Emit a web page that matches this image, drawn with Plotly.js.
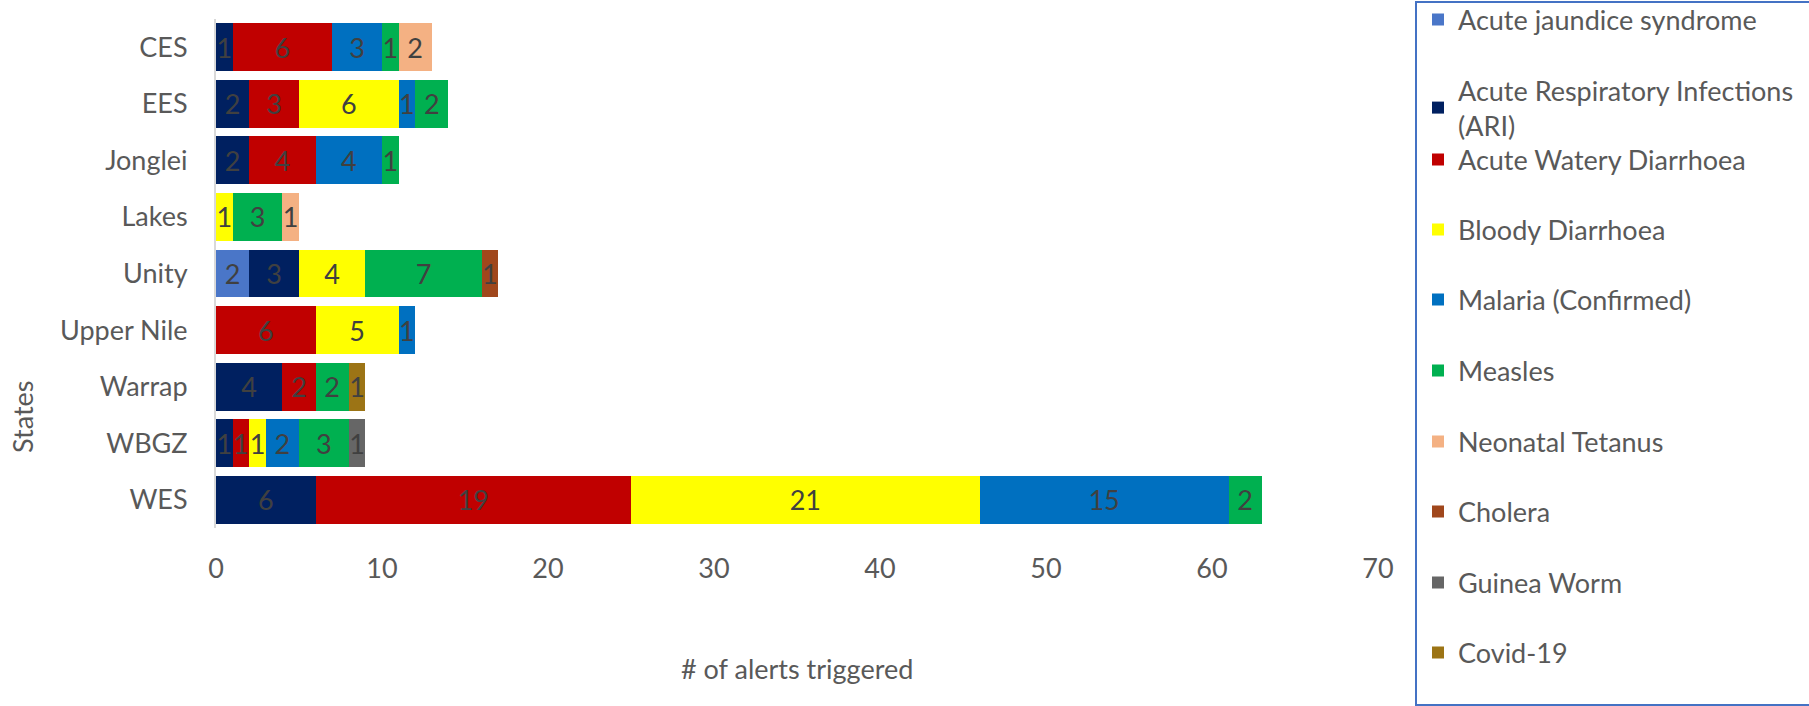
<!DOCTYPE html>
<html>
<head>
<meta charset="utf-8">
<script src="https://cdn.plot.ly/plotly-3.0.1.min.js"></script>
<style>html,body{margin:0;padding:0;background:#fff;}#chart{width:1809px;height:706px;}</style>
</head>
<body>
<div id="chart"></div>
<script>
const states = ["CES","EES","Jonglei","Lakes","Unity","Upper Nile","Warrap","WBGZ","WES"];
const diseases = ["Acute jaundice syndrome","Acute Respiratory Infections<br>(ARI)","Acute Watery Diarrhoea","Bloody Diarrhoea","Malaria (Confirmed)","Measles","Neonatal Tetanus","Cholera","Guinea Worm","Covid-19"];
const jaundice    = [null,null,null,null,2,null,null,null,null];
const ari         = [1,2,2,null,3,null,4,1,6];
const awd         = [6,3,4,null,null,6,2,1,19];
const bloody      = [null,6,null,1,4,5,null,1,21];
const malaria     = [3,1,4,null,null,1,null,2,15];
const measles     = [1,2,1,3,7,null,2,3,2];
const neoTetanus  = [2,null,null,1,null,null,null,null,null];
const cholera     = [null,null,null,null,1,null,null,null,null];
const guineaWorm  = [null,null,null,null,null,null,null,1,null];
const covid19     = [null,null,null,null,null,null,1,null,null];
const xTicks = [0,10,20,30,40,50,60,70];

const series = [jaundice, ari, awd, bloody, malaria, measles, neoTetanus, cholera, guineaWorm, covid19];
const colors = ["#4A76C8","#002060","#C00000","#FFFF00","#0070C0","#00B050","#F4B183","#A0471C","#666666","#9C7415"];
// legend item vertical centres (px from top of the page)
const legendCentres = [20,108,160,230,300,371,442,512,583,653];

const FONT = "Lato, 'Liberation Sans', sans-serif";
const FS = 27;
const W = 1809, H = 706;

const traces = series.map((vals, i) => ({
  type: "bar",
  orientation: "h",
  name: diseases[i],
  y: states,
  x: vals,
  marker: {color: colors[i]},
  text: vals.map(v => v === null ? "" : String(v)),
  texttemplate: "%{text}",
  textposition: "inside",
  insidetextanchor: "middle",
  constraintext: "none",
  textangle: 0,
  textfont: {family: FONT, size: FS, color: "#404040"},
  legend: i === 0 ? "legend" : "legend" + (i + 1),
  hoverinfo: "x+name"
}));

const layout = {
  width: W, height: H,
  margin: {l: 216, r: 431, t: 19, b: 178},
  paper_bgcolor: "#fff",
  plot_bgcolor: "#fff",
  barmode: "stack",
  bargap: 0.155,
  font: {family: FONT, size: FS, color: "#595959"},
  xaxis: {
    range: [0, 70],
    tickvals: xTicks,
    ticktext: xTicks.map(String),
    showgrid: false, zeroline: false, showline: false,
    ticks: "",
    ticklabelstandoff: 22,
    tickfont: {family: FONT, size: FS, color: "#595959"},
    fixedrange: true
  },
  yaxis: {
    type: "category",
    categoryarray: states,
    categoryorder: "array",
    autorange: "reversed",
    showgrid: false, zeroline: false,
    showline: true, linecolor: "#D9D9D9", linewidth: 2,
    ticks: "",
    ticklabelstandoff: 21,
    tickfont: {family: FONT, size: FS, color: "#595959"},
    fixedrange: true
  },
  annotations: [
    {text: "# of alerts triggered", xref: "paper", yref: "paper", x: 0.5, y: (528 - 668) / 509,
     xanchor: "center", yanchor: "middle", showarrow: false,
     font: {family: FONT, size: FS, color: "#595959"}},
    {text: "States", xref: "paper", yref: "paper", x: (22 - 216) / 1162, y: (528 - 417) / 509,
     xanchor: "center", yanchor: "middle", showarrow: false, textangle: -90,
     font: {family: FONT, size: FS, color: "#595959"}}
  ],
  shapes: [
    {type: "rect", xref: "paper", yref: "paper",
     x0: (1416 - 216) / 1162, x1: (1830 - 216) / 1162,
     y0: (528 - 705) / 509, y1: (528 - 2) / 509,
     line: {color: "#4472C4", width: 2}, fillcolor: "rgba(0,0,0,0)", layer: "above"}
  ],
  showlegend: true
};

legendCentres.forEach((yc, i) => {
  const key = i === 0 ? "legend" : "legend" + (i + 1);
  layout[key] = {
    xref: "container", yref: "container",
    x: 1418 / W, xanchor: "left",
    y: 1 - yc / H, yanchor: "middle",
    bgcolor: "rgba(0,0,0,0)",
    borderwidth: 0,
    font: {family: FONT, size: FS, color: "#595959"}
  };
});

Plotly.newPlot("chart", traces, layout, {displayModeBar: false, staticPlot: true});
</script>
</body>
</html>
